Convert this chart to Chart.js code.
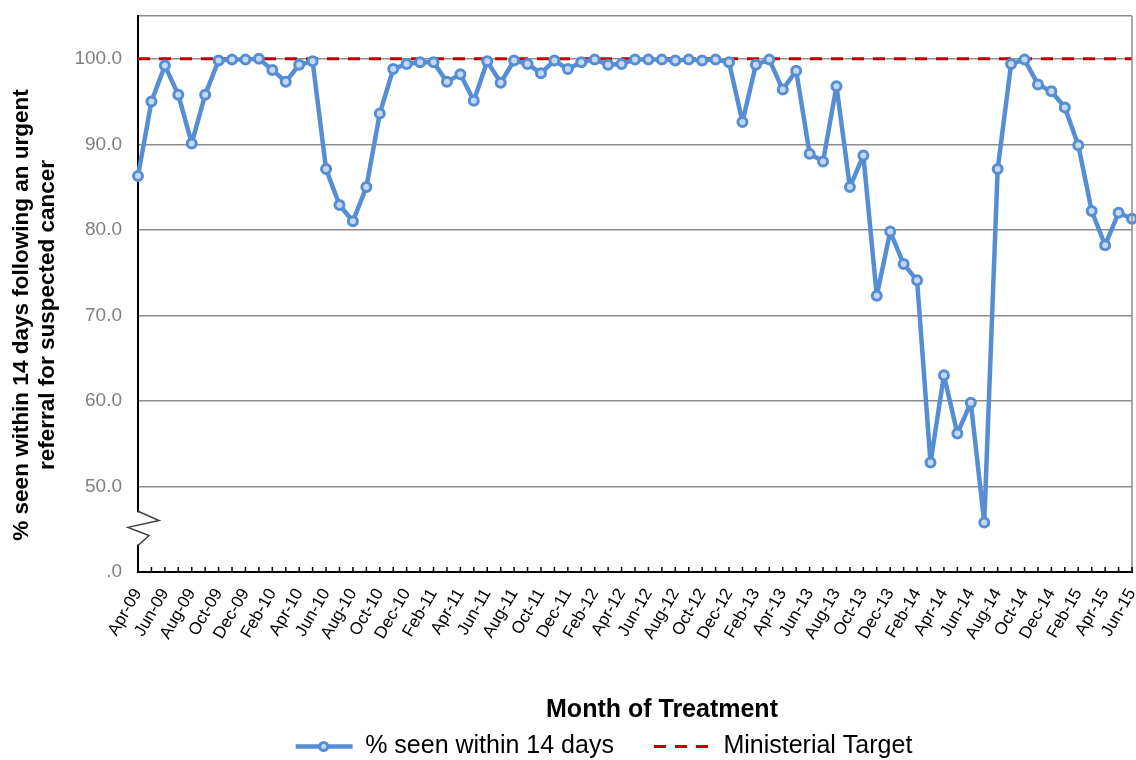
<!DOCTYPE html>
<html>
<head>
<meta charset="utf-8">
<script src="https://cdn.jsdelivr.net/npm/chart.js@4.4.1/dist/chart.umd.min.js"></script>
<style>
  html, body { margin: 0; padding: 0; background: #fff; }
</style>
</head>
<body>
<canvas id="chart" width="1136" height="760"></canvas>
<script>
const months = [
  'Apr-09','May-09','Jun-09','Jul-09','Aug-09','Sep-09','Oct-09','Nov-09','Dec-09',
  'Jan-10','Feb-10','Mar-10','Apr-10','May-10','Jun-10','Jul-10','Aug-10','Sep-10','Oct-10','Nov-10','Dec-10',
  'Jan-11','Feb-11','Mar-11','Apr-11','May-11','Jun-11','Jul-11','Aug-11','Sep-11','Oct-11','Nov-11','Dec-11',
  'Jan-12','Feb-12','Mar-12','Apr-12','May-12','Jun-12','Jul-12','Aug-12','Sep-12','Oct-12','Nov-12','Dec-12',
  'Jan-13','Feb-13','Mar-13','Apr-13','May-13','Jun-13','Jul-13','Aug-13','Sep-13','Oct-13','Nov-13','Dec-13',
  'Jan-14','Feb-14','Mar-14','Apr-14','May-14','Jun-14','Jul-14','Aug-14','Sep-14','Oct-14','Nov-14','Dec-14',
  'Jan-15','Feb-15','Mar-15','Apr-15','May-15','Jun-15'
];

const seenWithin14 = [
  86.3, 95.0, 99.2, 95.8, 90.1, 95.8, 99.8, 99.9, 99.9,
  100.0, 98.7, 97.3, 99.3, 99.7, 87.1, 82.9, 81.0, 85.0, 93.6, 98.8, 99.4,
  99.6, 99.6, 97.3, 98.2, 95.1, 99.7, 97.2, 99.8, 99.4, 98.3, 99.8, 98.8,
  99.6, 99.9, 99.3, 99.4, 99.9, 99.9, 99.9, 99.8, 99.9, 99.8, 99.9, 99.6,
  92.6, 99.3, 99.9, 96.4, 98.6, 88.9, 88.0, 96.8, 85.0, 88.7, 72.3, 79.8,
  76.0, 74.1, 52.8, 63.0, 56.2, 59.8, 45.8, 87.1, 99.4, 99.9, 97.0, 96.2,
  94.3, 89.9, 82.2, 78.2, 82.0, 81.3
];

const target = 100;
const yTickValues = [50, 60, 70, 80, 90, 100];

const FONT = "'Liberation Sans', Arial, sans-serif";
Chart.defaults.font.family = FONT;

// frame, month ticks inside the axis, axis break, axis titles
const extras = {
  id: 'extras',
  afterLayout(chart) {
    chart.legend.left += 38;
    chart.legend.right += 38;
    chart.legend.top = 694;
  },
  afterDraw(chart) {
    const ctx = chart.ctx;
    const a = chart.chartArea;
    const x = chart.scales.x;
    const y = chart.scales.y;
    ctx.save();
    ctx.strokeStyle = '#8c8c8c';
    ctx.lineWidth = 1.5;
    ctx.beginPath();
    ctx.moveTo(a.right, a.top);
    ctx.lineTo(a.right, a.bottom);
    ctx.stroke();

    ctx.strokeStyle = '#000';
    ctx.lineWidth = 1.5;
    ctx.beginPath();
    x.ticks.forEach((t, i) => {
      const px = x.getPixelForTick(i);
      ctx.moveTo(px, a.bottom);
      ctx.lineTo(px, a.bottom - 5);
    });
    ctx.stroke();

    const y1 = y.getPixelForValue(47.1);
    const y2 = y.getPixelForValue(43.1);
    const h = y2 - y1;
    ctx.fillStyle = '#fff';
    ctx.fillRect(a.left - 3, y1 + 1, 6, h - 2);
    ctx.strokeStyle = '#404040';
    ctx.lineWidth = 1.5;
    ctx.beginPath();
    ctx.moveTo(a.left, y1);
    ctx.lineTo(a.left + 21, y1 + h * 0.27);
    ctx.lineTo(a.left - 10, y1 + h * 0.47);
    ctx.lineTo(a.left + 11, y1 + h * 0.71);
    ctx.lineTo(a.left, y2);
    ctx.stroke();

    // marker on the legend line
    const hb = chart.legend.legendHitBoxes[0];
    if (hb) {
      ctx.beginPath();
      ctx.arc(hb.left + 28, hb.top + 12.5, 4, 0, Math.PI * 2);
      ctx.fillStyle = '#c6d9f1';
      ctx.fill();
      ctx.lineWidth = 3;
      ctx.strokeStyle = '#558ed5';
      ctx.stroke();
    }

    // axis titles
    ctx.fillStyle = '#000';
    ctx.textAlign = 'center';
    ctx.textBaseline = 'middle';
    ctx.font = 'bold 25px ' + FONT;
    ctx.fillText('Month of Treatment', 662, 710);
    ctx.translate(22, 315);
    ctx.rotate(-Math.PI / 2);
    ctx.font = 'bold 22.5px ' + FONT;
    ctx.fillText('% seen within 14 days following an urgent', 0, 0);
    ctx.fillText('referral for suspected cancer', 0, 26);
    ctx.restore();
  }
};

new Chart(document.getElementById('chart'), {
  type: 'line',
  data: {
    labels: months,
    datasets: [
      {
        label: '% seen within 14 days',
        data: seenWithin14,
        borderColor: '#558ed5',
        backgroundColor: '#558ed5',
        borderWidth: 4.5,
        borderJoinStyle: 'round',
        pointRadius: 4.5,
        pointBorderWidth: 3,
        pointBackgroundColor: '#c6d9f1',
        pointBorderColor: '#558ed5',
        tension: 0,
        clip: false
      },
      {
        label: 'Ministerial Target',
        data: months.map(() => target),
        borderColor: '#c00000',
        backgroundColor: '#c00000',
        borderWidth: 3,
        borderDash: [12, 9],
        pointRadius: 0,
        tension: 0
      }
    ]
  },
  options: {
    responsive: false,
    animation: false,
    layout: { autoPadding: false, padding: { top: 16, right: 4, left: 0, bottom: 0 } },
    plugins: {
      legend: {
        position: 'bottom',
        maxHeight: 42,
        labels: {
          usePointStyle: true,
          pointStyle: 'line',
          pointStyleWidth: 57,
          color: '#000',
          font: { size: 25 },
          padding: 40,
          generateLabels: chart => {
            const items = Chart.defaults.plugins.legend.labels.generateLabels(chart);
            items[0].lineWidth = 4.5;
            items[0].lineDash = [];
            items[1].lineWidth = 3;
            items[1].lineDash = [12, 9];
            return items;
          }
        }
      },
      tooltip: { enabled: false }
    },
    scales: {
      x: {
        afterFit: s => { s.height = 146; s.paddingLeft = 0; s.paddingRight = 0; },
        border: { color: '#000', width: 2 },
        grid: { drawOnChartArea: false, drawTicks: false },
        ticks: {
          autoSkip: false,
          maxRotation: 60,
          minRotation: 60,
          padding: 13,
          color: '#000',
          font: { size: 17 },
          callback: (v, i) => (i % 2 === 0 ? months[i] : '')
        }
      },
      y: {
        min: 40,
        max: 105,
        afterFit: s => { s.width = 138; s.paddingTop = 0; s.paddingBottom = 0; },
        afterBuildTicks: s => {
          s.ticks = [40].concat(yTickValues, [105]).map(v => ({ value: v }));
        },
        border: { color: '#000', width: 2 },
        grid: { color: '#8c8c8c', lineWidth: 1.5, drawTicks: false },
        ticks: {
          padding: 16,
          color: '#7f7f7f',
          font: { size: 19 },
          callback: v => (v === 40 ? '.0' : (yTickValues.includes(v) ? v.toFixed(1) : ''))
        }
      }
    }
  },
  plugins: [extras]
});
</script>
</body>
</html>
